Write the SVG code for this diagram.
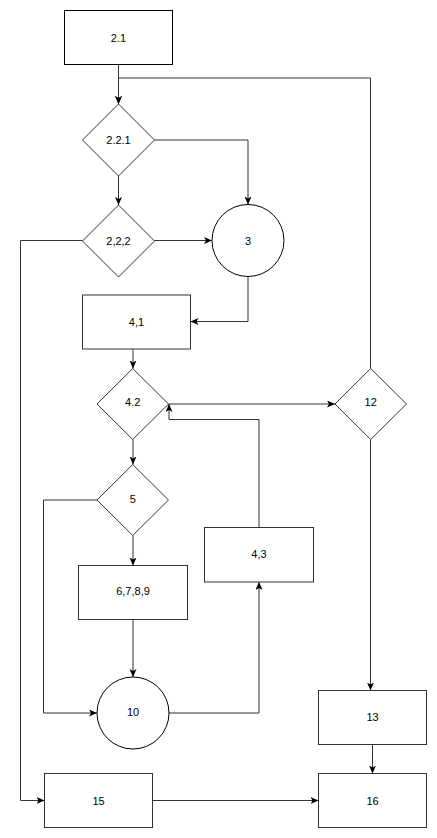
<svg xmlns="http://www.w3.org/2000/svg" width="437" height="838" viewBox="0 0 437 838">
<style>
.s{fill:#fff;stroke:#000;stroke-width:1}
.g{fill:#fff;stroke:#333;stroke-width:1}
.c{fill:none;stroke:#333;stroke-width:1}
text{font-family:"Liberation Sans",Arial,sans-serif;font-size:11px;fill:#000;text-anchor:middle;dominant-baseline:central}
</style>
<defs>
<marker id="a" markerUnits="userSpaceOnUse" markerWidth="9" markerHeight="8" refX="8" refY="3.5" orient="auto">
<path d="M0,0 L8,3.5 L0,7 L2,3.5 z" fill="#000"/>
</marker>
</defs>
<rect width="437" height="838" fill="#fff"/>
<g id="connectors">
<path class="c" d="M118.5,64.5 V104" marker-end="url(#a)"/>
<path class="c" d="M370.5,368.5 V78 H118.5 V104" marker-end="url(#a)"/>
<path class="c" d="M154.5,140 H248 V204.5" marker-end="url(#a)"/>
<path class="c" d="M118.5,176 V205" marker-end="url(#a)"/>
<path class="c" d="M154.5,240.5 H212" marker-end="url(#a)"/>
<path class="c" d="M82.5,240.5 H20.5 V800.5 H44.5" marker-end="url(#a)"/>
<path class="c" d="M248,276.5 V321.5 H190.5" marker-end="url(#a)"/>
<path class="c" d="M133,349 V368.5" marker-end="url(#a)"/>
<path class="c" d="M168.5,404 H335" marker-end="url(#a)"/>
<path class="c" d="M133,439.5 V464.5" marker-end="url(#a)"/>
<path class="c" d="M97,500 H43.5 V713 H97" marker-end="url(#a)"/>
<path class="c" d="M133,535.5 V565.5" marker-end="url(#a)"/>
<path class="c" d="M133,619.5 V677" marker-end="url(#a)"/>
<path class="c" d="M169,713 H259 V582" marker-end="url(#a)"/>
<path class="c" d="M259,527.5 V419.5 H169 V404" marker-end="url(#a)"/>
<path class="c" d="M370.5,439.5 V690.5" marker-end="url(#a)"/>
<path class="c" d="M372.5,744.5 V773.5" marker-end="url(#a)"/>
<path class="c" d="M152.5,800.5 H318.5" marker-end="url(#a)"/>
</g>
<g id="n2_1"><rect class="s" x="64.5" y="10.5" width="108" height="54"/><text x="118.5" y="37.5">2.1</text></g>
<g id="n2_2_1"><path class="g" d="M118.5,104 L154.5,140 L118.5,176 L82.5,140 Z"/><text x="118.5" y="140">2.2.1</text></g>
<g id="n2_2_2"><path class="g" d="M118.5,205 L154.5,241 L118.5,277 L82.5,241 Z"/><text x="118.5" y="240.5">2,2,2</text></g>
<g id="n3"><circle class="s" cx="248" cy="240.5" r="36"/><text x="248" y="240.5">3</text></g>
<g id="n4_1"><rect class="g" x="82.5" y="295" width="108" height="54"/><text x="136.5" y="322">4,1</text></g>
<g id="n4_2"><path class="g" d="M132.7,368.5 L168.5,404 L132.7,439.5 L97,404 Z"/><text x="132.7" y="402">4.2</text></g>
<g id="n12"><path class="g" d="M370.7,368.5 L406.5,404 L370.7,439.5 L335,404 Z"/><text x="370.7" y="402">12</text></g>
<g id="n5"><path class="g" d="M132.7,464.5 L168.5,500 L132.7,535.5 L97,500 Z"/><text x="132.7" y="499">5</text></g>
<g id="n4_3"><rect class="g" x="204.5" y="527.5" width="109" height="54.5"/><text x="259" y="554">4,3</text></g>
<g id="n6789"><rect class="g" x="78.5" y="565.5" width="109" height="54"/><text x="133" y="591">6,7,8,9</text></g>
<g id="n10"><circle class="s" cx="133" cy="713" r="36"/><text x="133" y="712">10</text></g>
<g id="n13"><rect class="g" x="318.5" y="690.5" width="108" height="54"/><text x="372.5" y="717">13</text></g>
<g id="n15"><rect class="g" x="44.5" y="773.5" width="108" height="54"/><text x="98.5" y="800.5">15</text></g>
<g id="n16"><rect class="g" x="318.5" y="773.5" width="108" height="54"/><text x="372.5" y="800.5">16</text></g>
</svg>
